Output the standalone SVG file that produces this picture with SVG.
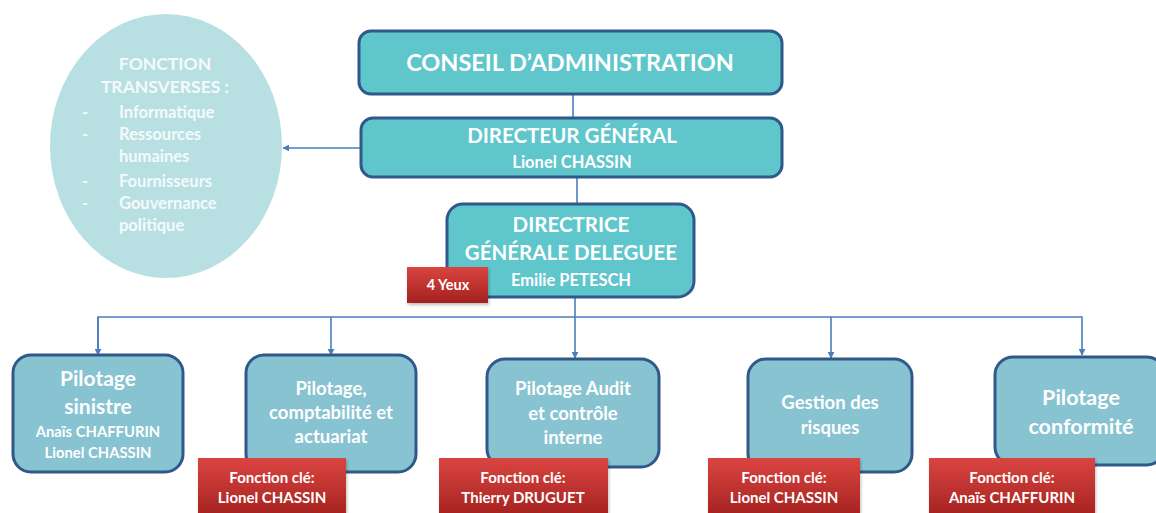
<svg xmlns="http://www.w3.org/2000/svg" width="1156" height="513" viewBox="0 0 1156 513">
<defs>
<linearGradient id="red" x1="0" y1="0" x2="0" y2="1">
<stop offset="0" stop-color="#da4541"/>
<stop offset="1" stop-color="#a3211f"/>
</linearGradient>
<marker id="arr" viewBox="0 0 10 10" refX="9" refY="5" markerWidth="7" markerHeight="7" orient="auto" markerUnits="userSpaceOnUse">
<path d="M0,0 L10,5 L0,10 z" fill="#4a7ebf"/>
</marker>
<filter id="sh" x="-10%" y="-10%" width="120%" height="130%">
<feDropShadow dx="1" dy="2" stdDeviation="1.5" flood-color="#000" flood-opacity="0.25"/>
</filter>
</defs>
<style>
text{font-family:Lato,"Open Sans","Liberation Sans",sans-serif;fill:#ffffff;text-anchor:middle;font-weight:bold}
.top{fill:#5fc6cc;stroke:#30588a;stroke-width:3}
.sub{fill:#87c3d1;stroke:#30588a;stroke-width:3}
.red{fill:url(#red);filter:url(#sh)}
.conn{stroke:#4a7ebf;stroke-width:1.6;fill:none}
.ell text{fill:#f4fafb;text-anchor:start;font-size:16.5px}
</style>
<g id="connectors">
<line class="conn" x1="573" y1="94" x2="573" y2="118"/>
<line class="conn" x1="577" y1="177" x2="577" y2="204"/>
<line class="conn" x1="361" y1="148" x2="283" y2="148" marker-end="url(#arr)"/>
<line class="conn" x1="575" y1="297" x2="575" y2="317"/>
<polyline class="conn" points="98,355 98,317 1082,317 1082,355" marker-end="url(#arr)"/>
<line class="conn" x1="98" y1="317" x2="98" y2="355" marker-end="url(#arr)"/>
<line class="conn" x1="331" y1="317" x2="331" y2="355" marker-end="url(#arr)"/>
<line class="conn" x1="575" y1="317" x2="575" y2="358" marker-end="url(#arr)"/>
<line class="conn" x1="831" y1="317" x2="831" y2="358" marker-end="url(#arr)"/>
</g>
<g id="transverses" class="ell">
<ellipse cx="166" cy="146" rx="116" ry="132" fill="#b8e0e3"/>
<text x="165" y="70" style="text-anchor:middle;font-size:17.5px">FONCTION</text>
<text x="165" y="93" style="text-anchor:middle;font-size:17.5px">TRANSVERSES :</text>
<text x="82" y="118">-</text><text x="119" y="118">Informatique</text>
<text x="82" y="140">-</text><text x="119" y="140">Ressources</text>
<text x="119" y="162">humaines</text>
<text x="82" y="187">-</text><text x="119" y="187">Fournisseurs</text>
<text x="82" y="209">-</text><text x="119" y="209">Gouvernance</text>
<text x="119" y="231">politique</text>
</g>
<g id="conseil">
<rect class="top" x="359" y="31" width="423" height="63" rx="12"/>
<text x="570" y="71" font-size="23.5">CONSEIL D’ADMINISTRATION</text>
</g>
<g id="directeur">
<rect class="top" x="361" y="118" width="421" height="59" rx="12"/>
<text x="572" y="143" font-size="20.5">DIRECTEUR GÉNÉRAL</text>
<text x="572" y="168" font-size="16.5">Lionel CHASSIN</text>
</g>
<g id="directrice">
<rect class="top" x="447" y="204" width="247" height="93" rx="16"/>
<text x="571" y="232" font-size="20.5">DIRECTRICE</text>
<text x="571" y="260" font-size="20.5">GÉNÉRALE DELEGUEE</text>
<text x="571" y="286" font-size="16.5">Emilie PETESCH</text>
</g>
<g id="yeux">
<rect class="red" x="407" y="267" width="81" height="36"/>
<text x="448" y="290" font-size="14.5">4 Yeux</text>
</g>
<g id="sinistre">
<rect class="sub" x="13" y="355" width="170" height="117" rx="18"/>
<text x="98" y="386" font-size="21">Pilotage</text>
<text x="98" y="414" font-size="21">sinistre</text>
<text x="98" y="437" font-size="14.8">Anaïs CHAFFURIN</text>
<text x="98" y="458" font-size="14.8">Lionel CHASSIN</text>
</g>
<g id="comptabilite">
<rect class="sub" x="246" y="355" width="170" height="117" rx="18"/>
<text x="331" y="395" font-size="18.5">Pilotage,</text>
<text x="331" y="419" font-size="18.5">comptabilité et</text>
<text x="331" y="443" font-size="18.5">actuariat</text>
</g>
<g id="audit">
<rect class="sub" x="487" y="359" width="172" height="108" rx="18"/>
<text x="573" y="395" font-size="18.5">Pilotage Audit</text>
<text x="573" y="420" font-size="18.5">et contrôle</text>
<text x="573" y="444" font-size="18.5">interne</text>
</g>
<g id="risques">
<rect class="sub" x="748" y="359" width="164" height="113" rx="18"/>
<text x="830" y="409" font-size="18.5">Gestion des</text>
<text x="830" y="434" font-size="18.5">risques</text>
</g>
<g id="conformite">
<rect class="sub" x="995" y="357" width="170" height="108" rx="18"/>
<text x="1081" y="405" font-size="21.5">Pilotage</text>
<text x="1081" y="434" font-size="21.5">conformité</text>
</g>
<g id="cle1">
<rect class="red" x="198" y="458" width="148" height="60"/>
<text x="272" y="483" font-size="15">Fonction clé:</text>
<text x="272" y="503" font-size="15">Lionel CHASSIN</text>
</g>
<g id="cle2">
<rect class="red" x="439" y="458" width="169" height="60"/>
<text x="523" y="483" font-size="15">Fonction clé:</text>
<text x="523" y="503" font-size="15">Thierry DRUGUET</text>
</g>
<g id="cle3">
<rect class="red" x="708" y="458" width="152" height="60"/>
<text x="784" y="483" font-size="15">Fonction clé:</text>
<text x="784" y="503" font-size="15">Lionel CHASSIN</text>
</g>
<g id="cle4">
<rect class="red" x="929" y="458" width="166" height="60"/>
<text x="1012" y="483" font-size="15">Fonction clé:</text>
<text x="1012" y="503" font-size="15">Anaïs CHAFFURIN</text>
</g>
</svg>
